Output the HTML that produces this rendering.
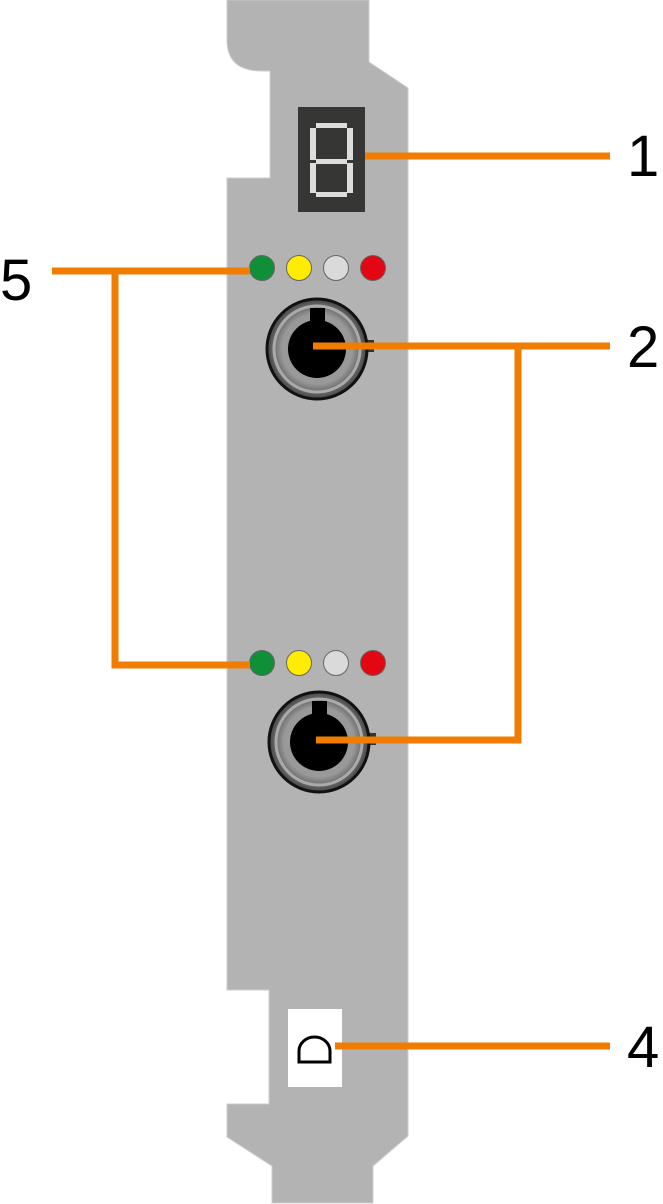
<!DOCTYPE html>
<html><head><style>html,body{margin:0;padding:0;background:#fff}svg{display:block}</style></head>
<body>
<svg width="663" height="1204" viewBox="0 0 663 1204" xmlns="http://www.w3.org/2000/svg">
<defs>
<radialGradient id="g" cx="50%" cy="50%" r="50%">
<stop offset="0.7" stop-color="#999"/><stop offset="1" stop-color="#444"/>
</radialGradient>
</defs>
<path d="M227 0 H369 V62 L408 88 V1136 L373 1166 V1203 H272 V1166 L227 1137 V1104 H269 V990 H227 V178 H270 V71 H262 Q227 71 227 40 Z" fill="#b3b3b3" stroke="#ccc" stroke-width="1"/>
<rect x="298" y="107" width="67" height="105" fill="#363634"/>
<g fill="#ddd">
<rect x="316" y="123" width="31" height="5"/>
<rect x="310" y="128" width="6" height="32"/>
<rect x="347" y="128" width="6" height="32"/>
<rect x="316" y="159" width="31" height="5"/>
<rect x="310" y="163" width="6" height="30"/>
<rect x="347" y="163" width="6" height="30"/>
<rect x="316" y="192" width="31" height="5"/>
</g>
<g stroke="#666" stroke-width="1">
<circle cx="262" cy="268" r="12.5" fill="#0f8f38"/>
<circle cx="299" cy="268" r="12.5" fill="#ffec00"/>
<circle cx="336" cy="268" r="12.5" fill="#dadada"/>
<circle cx="373" cy="268" r="12.5" fill="#e30613"/>
<circle cx="262" cy="663" r="12.5" fill="#0f8f38"/>
<circle cx="299" cy="663" r="12.5" fill="#ffec00"/>
<circle cx="336" cy="663" r="12.5" fill="#dadada"/>
<circle cx="373" cy="663" r="12.5" fill="#e30613"/>
</g>
<g id="c1">
<rect x="362" y="340" width="12" height="12" fill="#333"/>
<circle cx="317" cy="349" r="50" fill="url(#g)" stroke="#111" stroke-width="3"/>
<circle cx="317" cy="349" r="43" fill="none" stroke="#aaa" stroke-width="3"/>
<circle cx="317" cy="349" r="29" fill="#000"/>
<rect x="310" y="308" width="15" height="20" fill="#000"/>
</g>
<g transform="translate(2,393)">
<rect x="362" y="340" width="12" height="12" fill="#333"/>
<circle cx="317" cy="349" r="50" fill="url(#g)" stroke="#111" stroke-width="3"/>
<circle cx="317" cy="349" r="43" fill="none" stroke="#aaa" stroke-width="3"/>
<circle cx="317" cy="349" r="29" fill="#000"/>
<rect x="310" y="308" width="15" height="20" fill="#000"/>
</g>
<rect x="288" y="1009" width="54" height="78" fill="#fff"/>
<path d="M330 1062 H299 V1051 A15.5 14 0 0 1 330 1051 Z" fill="none" stroke="#000" stroke-width="3"/>
<g stroke="#f07d00" stroke-width="7" fill="none">
<path d="M365 156 H610"/>
<path d="M313 346 H610"/>
<path d="M316 740 H518 V346"/>
<path d="M52 271 H250"/>
<path d="M250 665 H115 V271"/>
<path d="M335 1046 H610"/>
</g>
<g font-family="Liberation Sans, sans-serif" font-size="58" fill="#000">
<text x="627" y="176">1</text>
<text x="627" y="367">2</text>
<text x="627" y="1067">4</text>
<text x="0" y="300">5</text>
</g>
</svg>
</body></html>
